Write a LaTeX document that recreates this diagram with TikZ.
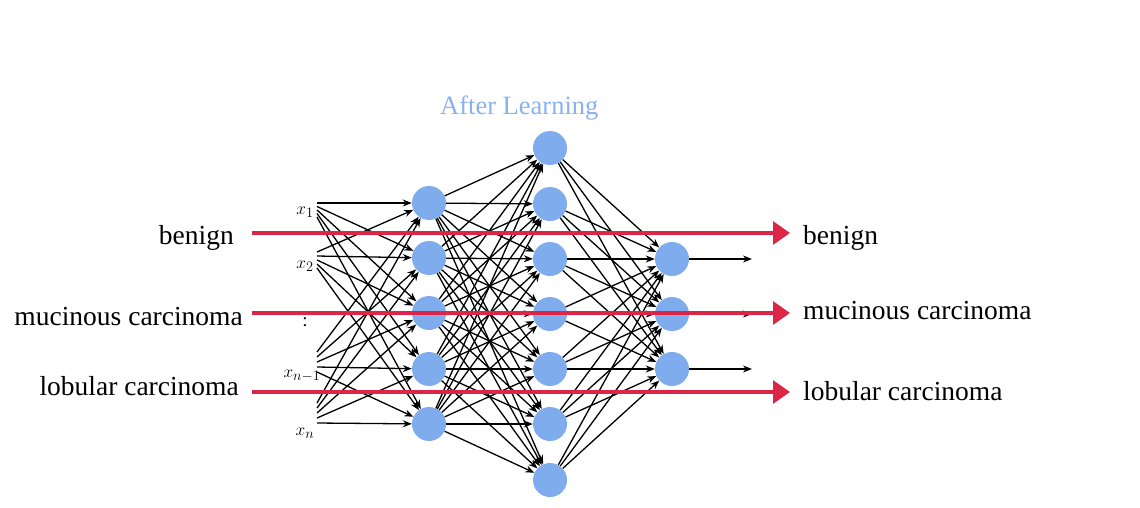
\documentclass[tikz,border=0pt]{standalone}
\usepackage{fontspec}
\setmainfont{Liberation Serif}
\usetikzlibrary{arrows.meta}
\definecolor{nodeblue}{RGB}{127,172,236}
\definecolor{titleblue}{RGB}{135,178,240}
\definecolor{redarrow}{RGB}{220,38,72}
\begin{document}
\begin{tikzpicture}[x=1pt,y=-1pt,
  neuron/.style={circle,fill=nodeblue,minimum size=34pt,inner sep=0pt},
  edge/.style={line width=1.3pt,-{Stealth[length=9pt,width=7pt]}},
  redline/.style={line width=3.2pt,draw=redarrow,-{Triangle[length=17pt,width=23pt]}},
  lab/.style={font=\fontsize{27.5}{32}\selectfont,inner sep=0pt},
  inlab/.style={font=\fontsize{19}{22}\selectfont,inner sep=0pt}]
\useasboundingbox (0,0) rectangle (1140,507);
% layers
\foreach \y [count=\i] in {203,258,313,369,424} \node[neuron] (a\i) at (429,\y) {};
\foreach \y [count=\i] in {148,204,259,314,369,424,480} \node[neuron] (b\i) at (550,\y) {};
\foreach \y [count=\i] in {259,314,369} \node[neuron] (c\i) at (672,\y) {};
% inputs
\foreach \base/\st [count=\k] in {203/3.5,252/4,352/5,403/5} {
  \foreach \j in {1,...,5} {
    \coordinate (i\k-\j) at (317,{\base+(\j-1)*\st});
    \draw[edge] (i\k-\j) -- (a\j);
  }
}
% hidden 1 -> hidden 2
\foreach \i in {1,...,5} \foreach \j in {1,...,7} \draw[edge] (a\i) -- (b\j);
% hidden 2 -> output
\foreach \i in {1,...,7} \foreach \j in {1,...,3} \draw[edge] (b\i) -- (c\j);
% outputs
\foreach \y [count=\i] in {259,314,369} {
  \coordinate (o\i) at (752,\y);
  \draw[edge] (c\i) -- (o\i);
}
% input labels
\node[inlab] (x1) at (305,212) {$x_1$};
\node[inlab] (x2) at (305,266) {$x_2$};
\node[inlab] (xd) at (305,322) {:};
\node[inlab] (xn1) at (302,376) {$x_{n-1}$};
\node[inlab] (xn) at (305,433) {$x_n$};
% title
\node[font=\fontsize{26.5}{30}\selectfont,text=titleblue,inner sep=0pt,anchor=base west] (title) at (440,114) {After Learning};
% red arrows
\foreach \y [count=\i] in {233,313,392} {
  \coordinate (rl\i) at (252,\y);
  \coordinate (rr\i) at (790,\y);
  \draw[redline] (rl\i) -- (rr\i);
}
% class labels
\node[lab,anchor=base east] (lb1) at (234,244) {benign};
\node[lab,anchor=base east] (lb2) at (243,325) {mucinous carcinoma};
\node[lab,anchor=base east] (lb3) at (239,395) {lobular carcinoma};
\node[lab,anchor=base west] (rb1) at (803,244) {benign};
\node[lab,anchor=base west] (rb2) at (803,319) {mucinous carcinoma};
\node[lab,anchor=base west] (rb3) at (803,400) {lobular carcinoma};
\end{tikzpicture}
\end{document}
